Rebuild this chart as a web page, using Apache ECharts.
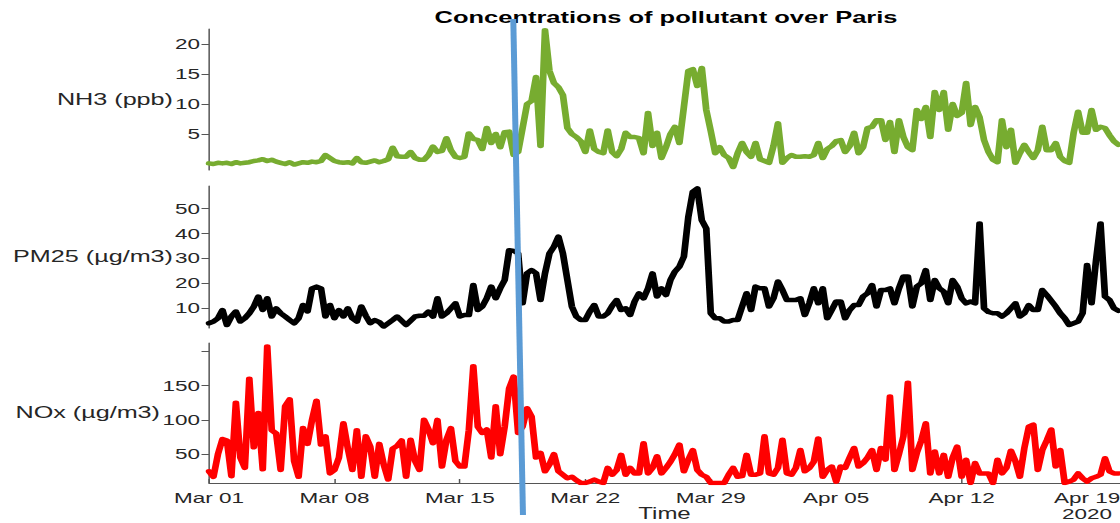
<!DOCTYPE html>
<html>
<head>
<meta charset="utf-8">
<script src="https://cdn.jsdelivr.net/npm/echarts@6/dist/echarts.min.js"></script>
<style>
html, body { margin: 0; padding: 0; background: #fff; overflow: hidden; width: 1120px; height: 523px; }
#chart { width: 747px; height: 523px; transform: scaleX(1.49933); transform-origin: 0 0; }
</style>
</head>
<body>
<div id="chart"></div>
<script>
// ---------------- data (one value every 6 hours from Mar 01 00:00) ----------------
const stepDays = 0.25;
const xTickDays = [0, 7, 14, 21, 28, 35, 42, 49];
const xTickLabels = ['Mar 01', 'Mar 08', 'Mar 15', 'Mar 22', 'Mar 29', 'Apr 05', 'Apr 12', 'Apr 19'];
const yearLabel = '2020';
const titleText = 'Concentrations of pollutant over Paris';
const xName = 'Time';
const seriesNames = ['NH3 (ppb)', 'PM25 (\u00b5g/m3)', 'NOx (\u00b5g/m3)'];
const nh3Ticks = [5, 10, 15, 20];
const pm25Ticks = [10, 20, 30, 40, 50];
const noxTicks = [50, 100, 150, 200];
const noxLabels = [50, 100, 150];
// slanted marker line (day at top of figure, day at bottom)
const markerDays = [16.98, 17.52];

const nh3 = [
  0.1, 0.0, 0.2, 0.1,   0.2, 0.0, 0.3, 0.1,   0.2, 0.3, 0.5, 0.6,   0.8, 0.5, 0.7, 0.4,
  0.2, 0.0, 0.3, -0.1,  0.1, 0.3, 0.2, 0.4,   0.3, 0.5, 1.5, 1.0,   0.5, 0.3, 0.2, 0.3,
  0.1, 1.0, 0.3, 0.2,   0.4, 0.6, 0.3, 0.5,   0.8, 2.7, 1.3, 1.2,   1.2, 2.0, 1.0, 0.7,
  0.7, 1.5, 2.9, 2.0,   2.2, 4.3, 2.3, 1.2,   1.0, 1.2, 5.1, 4.2,   4.0, 2.5, 6.0, 3.5,
  5.0, 2.8, 5.3, 5.4,   1.5, 2.0, 6.0, 10.0,  10.5, 14.5, 3.0, 22.3, 15.5, 13.5, 12.8, 11.5,
  6.0, 5.0, 4.5, 3.8,   2.0, 5.6, 2.5, 2.0,   1.8, 5.6, 2.0, 1.3,   2.5, 5.2, 4.5, 4.5,
  4.3, 1.8, 8.5, 3.0,   5.2, 1.0, 2.8, 5.0,   6.2, 3.5, 9.5, 15.5,  15.8, 13.0, 16.0, 9.0,
  5.5, 1.8, 2.8, 1.5,   1.0, -0.5, 1.8, 3.5,  2.0, 1.2, 3.5, 0.8,   0.5, 0.2, 3.0, 6.8,
  0.2, 1.0, 1.5, 1.2,   1.2, 1.3, 1.2, 1.5,   3.5, 1.0, 2.5, 3.0,   3.8, 4.0, 2.0, 3.0,
  5.2, 1.8, 2.8, 6.0,   6.2, 7.3, 7.3, 4.0,   7.0, 2.0, 7.3, 4.5,   2.8, 2.3, 9.0, 7.5,
  9.5, 4.5, 12.0, 9.0,  12.0, 5.7, 10.0, 8.0, 8.5, 13.5, 6.5, 9.5,  7.8, 4.0, 2.0, 0.7,
  0.3, 7.3, 2.8, 5.7,   0.2, 1.8, 3.2, 2.0,   1.0, 2.3, 6.2, 2.3,   2.3, 3.5, 1.2, 0.5,
  0.2, 5.2, 8.7, 5.2,   5.2, 9.0, 5.7, 6.2,   6.0, 4.8, 3.8, 3.2
];

const pm25 = [
  4.0, 4.7, 6.0, 9.3,   3.3, 6.7, 8.7, 4.7,   6.0, 8.0, 10.7, 14.7, 9.3, 14.0, 6.7, 10.0,
  8.0, 6.7, 5.3, 4.0,   6.0, 11.3, 8.7, 18.0, 18.7, 18.0, 6.7, 11.3, 6.0, 9.3, 6.7, 10.0,
  6.0, 4.7, 10.7, 7.0,  4.0, 5.3, 4.5, 2.7,   4.0, 5.3, 6.7, 5.0,   3.3, 5.0, 6.7, 7.0,
  7.0, 8.7, 6.7, 14.0,  6.7, 8.0, 10.0, 12.0, 6.7, 7.3, 7.3, 19.3,  9.3, 10.7, 14.0, 18.7,
  14.0, 18.0, 21.3, 33.3, 33.0, 32.0, 12.0, 24.0, 25.3, 24.0, 13.3, 24.0, 32.0, 34.7, 38.7, 32.0,
  21.3, 10.7, 6.7, 5.3, 5.3, 8.7, 11.3, 6.7,  6.7, 8.0, 11.0, 13.3, 9.3, 10.0, 7.3, 12.7,
  16.0, 14.0, 18.0, 24.0, 14.7, 18.0, 15.3, 21.3, 24.7, 26.7, 30.7, 46.7, 56.7, 58.0, 45.3, 42.0,
  8.0, 6.0, 6.0, 4.7,   4.7, 5.3, 5.3, 10.7,  16.0, 9.3, 18.7, 18.0, 18.0, 10.7, 14.0, 20.7,
  17.3, 13.3, 13.3, 13.3, 14.0, 7.3, 12.0, 18.0, 12.0, 18.0, 6.0, 9.3, 12.7, 12.7, 6.0, 9.3,
  11.3, 11.3, 14.7, 16.0, 19.3, 10.7, 17.3, 17.3, 18.0, 12.0, 18.0, 22.7, 22.7, 10.7, 18.7, 20.0,
  25.3, 13.3, 21.3, 18.0, 16.7, 12.0, 21.3, 18.7, 14.0, 12.0, 12.7, 12.0, 44.0, 10.0, 8.5, 8.0,
  8.0, 6.7, 8.0, 10.0,  12.0, 6.7, 8.0, 11.3, 9.3, 9.3, 17.3, 15.3,  13.0, 10.7, 8.0, 6.0,
  3.3, 4.0, 4.7, 8.0,   27.3, 12.0, 29.3, 44.0, 14.7, 13.3, 10.0, 9.0
];

const nox = [
  25, 17, 50, 72,    70, 18, 125, 45,   30, 160, 60, 110,  28, 207, 85, 80,
  27, 120, 130, 40,  17, 88, 65, 100,   128, 64, 76, 22,   27, 45, 95, 58,
  27, 85, 17, 76,    61, 17, 65, 35,    13, 58, 62, 70,    17, 71, 40, 27,
  100, 86, 66, 100,  32, 71, 88, 40,    32, 32, 85, 178,   90, 81, 86, 45,
  120, 50, 90, 146,  163, 81, 90, 117,  105, 45, 52, 25,   35, 50, 25, 20,
  15, 17, 12, 8,     8, 10, 13, 10,     8, 30, 20, 27,     49, 20, 30, 22,
  22, 66, 22, 30,    47, 22, 30, 39,    50, 64, 25, 42,    56, 27, 20, 17,
  8, 8, 8, 8,        20, 30, 17, 18,    49, 20, 20, 22,    76, 22, 20, 30,
  71, 22, 20, 30,    56, 25, 30, 39,    73, 17, 27, 32,    10, 32, 30, 45,
  59, 32, 37, 45,    56, 27, 59, 42,    134, 27, 50, 76,   154, 27, 52, 70,
  95, 22, 54, 22,    49, 17, 45, 61,    17, 42, 8, 37,     22, 22, 22, 8,
  42, 22, 30, 55,    40, 17, 59, 90,    93, 27, 56, 70,    86, 32, 56, 8,
  10, 13, 22, 15,    10, 15, 17, 20,    44, 25, 22, 22
];

// ---------------- layout (reference is horizontally stretched: chart drawn narrow then scaled) ----------------
const W = 747;
const SX = 1120 / W;
const hx = v => v / SX;             // reference x-pixels -> unscaled pixels
const plotLeft = hx(209);
const dayMax = (1120 - 209) / 17.92;
const FONT = 'Liberation Sans, Arial, Helvetica, sans-serif';
const AXIS_COLOR = '#555555';
const TEXT_COLOR = '#262626';
const colors = ['#77ac30', '#000000', '#ff0000'];

const toPairs = arr => arr.map((v, i) => [i * stepDays, v]);

const panels = [
  { top: 29, height: 141, min: -1, max: 22.5, ticks: nh3Ticks, labels: nh3Ticks, data: nh3, nameGap: hx(36), namePad: [8, 0, 0, 0] },
  { top: 186, height: 142, min: 2.1, max: 59, ticks: pm25Ticks, labels: pm25Ticks, data: pm25, nameGap: hx(36), namePad: [2, 0, 0, 0] },
  { top: 343, height: 140, min: 8, max: 212, ticks: noxTicks, labels: noxLabels, data: nox, nameGap: hx(49), namePad: [12, 0, 0, 0] }
];

const grid = panels.map(p => ({ left: plotLeft, right: 0, top: p.top, height: p.height, containLabel: false, outerBoundsMode: 'none' }));
grid.push({ left: plotLeft, right: 0, top: 19, height: 496, containLabel: false, outerBoundsMode: 'none' });

const xAxis = [0, 1, 2, 3].map(i => {
  const base = { type: 'value', gridIndex: i, min: 0, max: dayMax, splitLine: { show: false } };
  if (i !== 2) {
    return Object.assign(base, { show: false });
  }
  return Object.assign(base, {
    name: xName,
    nameLocation: 'middle',
    nameGap: 23,
    nameMoveOverlap: false,
    nameTextStyle: { fontFamily: FONT, fontSize: 16, lineHeight: 16, color: TEXT_COLOR },
    axisLine: { show: true, lineStyle: { color: AXIS_COLOR, width: 1 } },
    axisTick: { show: true, inside: true, length: 4, customValues: xTickDays, lineStyle: { color: AXIS_COLOR } },
    axisLabel: {
      show: true,
      customValues: xTickDays,
      margin: 7,
      fontFamily: FONT,
      fontSize: 15,
      lineHeight: 16,
      color: TEXT_COLOR,
      formatter: v => {
        const k = xTickDays.indexOf(Math.round(v));
        if (k < 0) return '';
        return k === xTickDays.length - 1 ? xTickLabels[k] + '\n' + yearLabel : xTickLabels[k];
      }
    }
  });
});

const yAxis = panels.map((p, i) => ({
  type: 'value',
  gridIndex: i,
  min: p.min,
  max: p.max,
  name: seriesNames[i],
  nameLocation: 'middle',
  nameRotate: 0,
  nameGap: p.nameGap,
  nameMoveOverlap: false,
  nameTextStyle: { fontFamily: FONT, fontSize: 16.8, color: TEXT_COLOR, padding: p.namePad },
  splitLine: { show: false },
  axisLine: { show: true, lineStyle: { color: AXIS_COLOR, width: 1 } },
  axisTick: { show: true, inside: false, length: 5, customValues: p.ticks, lineStyle: { color: AXIS_COLOR } },
  axisLabel: { show: true, customValues: p.labels, margin: 6, fontFamily: FONT, fontSize: 15, color: TEXT_COLOR }
}));
yAxis.push({ type: 'value', gridIndex: 3, min: 0, max: 1, show: false });

const series = panels.map((p, i) => ({
  type: 'line',
  name: seriesNames[i],
  xAxisIndex: i,
  yAxisIndex: i,
  data: toPairs(p.data),
  showSymbol: false,
  symbol: 'none',
  lineStyle: { color: colors[i], width: 4.5, join: 'round', cap: 'round' },
  itemStyle: { color: colors[i] },
  silent: true
}));
series.push({
  type: 'line',
  name: 'marker',
  xAxisIndex: 3,
  yAxisIndex: 3,
  data: [[markerDays[0], 1], [markerDays[1], 0]],
  showSymbol: false,
  symbol: 'none',
  lineStyle: { color: '#5b9bd5', width: 4 },
  z: 10,
  silent: true
});

const chart = echarts.init(document.getElementById('chart'), null, { renderer: 'svg' });
chart.setOption({
  animation: false,
  backgroundColor: '#ffffff',
  title: {
    text: titleText,
    left: hx(666),
    textAlign: 'center',
    top: 9,
    padding: 0,
    textStyle: { fontFamily: FONT, fontSize: 17, fontWeight: 'bold', color: '#000000' }
  },
  grid: grid,
  xAxis: xAxis,
  yAxis: yAxis,
  series: series
});
</script>
</body>
</html>
